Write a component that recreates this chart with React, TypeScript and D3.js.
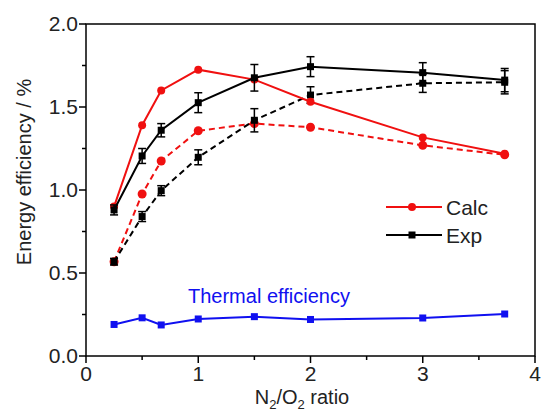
import React from "react";
import * as d3 from "d3";

const ratios = [0.25, 0.5, 0.67, 1, 1.5, 2, 3, 3.73];
const calcSolid = [0.9, 1.39, 1.6, 1.725, 1.665, 1.532, 1.317, 1.218];
const calcDashed = [0.568, 0.976, 1.175, 1.357, 1.4, 1.378, 1.269, 1.212];
const expSolid = [0.88, 1.205, 1.36, 1.526, 1.676, 1.743, 1.707, 1.662];
const expSolidErr = [0.03, 0.045, 0.04, 0.06, 0.08, 0.06, 0.06, 0.07];
const expDashed = [0.568, 0.84, 0.996, 1.197, 1.42, 1.572, 1.643, 1.649];
const expDashedErr = [0.02, 0.03, 0.03, 0.045, 0.07, 0.05, 0.055, 0.07];
const thermal = [0.19, 0.23, 0.187, 0.223, 0.237, 0.22, 0.229, 0.253];
const xTicks = [0, 1, 2, 3, 4];
const yTicks = [0, 0.5, 1.0, 1.5, 2.0];
const xMinor = [0.5, 1.5, 2.5, 3.5];
const yMinor = [0.25, 0.75, 1.25, 1.75];

const W = 543;
const H = 411;
const L = 86, R = 535, T = 24, B = 356;
const FONT = "Liberation Sans, Arial, sans-serif";
const RED = "#f01010";
const BLUE = "#1010f0";

export default function App() {
  const x = d3.scaleLinear().domain([0, 4]).range([L, R]);
  const y = d3.scaleLinear().domain([0, 2]).range([B, T]);
  const line = d3
    .line<number>()
    .x((_, i) => x(ratios[i]))
    .y((d) => y(d));

  const squares = (vals: number[], color: string, size: number) =>
    vals.map((v, i) => (
      <rect
        key={i}
        x={x(ratios[i]) - size / 2}
        y={y(v) - size / 2}
        width={size}
        height={size}
        fill={color}
      />
    ));
  const circles = (vals: number[], color: string, r: number) =>
    vals.map((v, i) => (
      <circle key={i} cx={x(ratios[i])} cy={y(v)} r={r} fill={color} />
    ));
  const errBars = (vals: number[], errs: number[]) =>
    vals.map((v, i) => {
      const cx = x(ratios[i]);
      const y1 = y(v + errs[i]);
      const y2 = y(v - errs[i]);
      return (
        <g key={i} stroke="#000" strokeWidth={1.5}>
          <line x1={cx} x2={cx} y1={y1} y2={y2} />
          <line x1={cx - 4} x2={cx + 4} y1={y1} y2={y1} />
          <line x1={cx - 4} x2={cx + 4} y1={y2} y2={y2} />
        </g>
      );
    });

  return (
    <svg
      width={W}
      height={H}
      style={{ position: "absolute", left: 0, top: 0, background: "#fff" }}
    >
      {/* frame */}
      <rect x={L} y={T} width={R - L} height={B - T} fill="none" stroke="#000" strokeWidth={1.5} />
      {/* ticks */}
      {xTicks.map((t) => (
        <g key={"xt" + t}>
          <line x1={x(t)} x2={x(t)} y1={B} y2={B + 7} stroke="#000" strokeWidth={1.5} />
          <text x={x(t)} y={B + 25} textAnchor="middle" fontFamily={FONT} fontSize={21} fill="#222">
            {t}
          </text>
        </g>
      ))}
      {xMinor.map((t) => (
        <line key={"xm" + t} x1={x(t)} x2={x(t)} y1={B} y2={B + 4} stroke="#000" strokeWidth={1.5} />
      ))}
      {yTicks.map((t) => (
        <g key={"yt" + t}>
          <line x1={L - 7} x2={L} y1={y(t)} y2={y(t)} stroke="#000" strokeWidth={1.5} />
          <text x={L - 8} y={y(t) + 7} textAnchor="end" fontFamily={FONT} fontSize={21} fill="#222">
            {t.toFixed(1)}
          </text>
        </g>
      ))}
      {yMinor.map((t) => (
        <line key={"ym" + t} x1={L - 4} x2={L} y1={y(t)} y2={y(t)} stroke="#000" strokeWidth={1.5} />
      ))}
      {/* axis titles */}
      <text
        transform={`translate(31,172) rotate(-90)`}
        textAnchor="middle"
        fontFamily={FONT}
        fontSize={20}
        fill="#222"
      >
        Energy efficiency / %
      </text>
      <text x={302} y={404} textAnchor="middle" fontFamily={FONT} fontSize={20} fill="#222">
        N<tspan fontSize={13} dy={5}>2</tspan>
        <tspan dy={-5}>/O</tspan>
        <tspan fontSize={13} dy={5}>2</tspan>
        <tspan dy={-5}> ratio</tspan>
      </text>

      {/* thermal */}
      <path d={line(thermal) || ""} fill="none" stroke={BLUE} strokeWidth={2} />
      {squares(thermal, BLUE, 7)}
      <text x={188} y={303} fontFamily={FONT} fontSize={20} fill={BLUE}>
        Thermal efficiency
      </text>

      {/* dashed series */}
      <path d={line(calcDashed) || ""} fill="none" stroke={RED} strokeWidth={2} strokeDasharray="6,4" />
      {circles(calcDashed, RED, 4.5)}
      <path d={line(expDashed) || ""} fill="none" stroke="#000" strokeWidth={2} strokeDasharray="6,4" />
      {errBars(expDashed, expDashedErr)}
      {squares(expDashed, "#000", 7)}

      {/* solid series */}
      <path d={line(calcSolid) || ""} fill="none" stroke={RED} strokeWidth={2} />
      {circles(calcSolid, RED, 4)}
      <path d={line(expSolid) || ""} fill="none" stroke="#000" strokeWidth={2} />
      {errBars(expSolid, expSolidErr)}
      {squares(expSolid, "#000", 7)}

      {/* legend */}
      <line x1={386} x2={442} y1={207} y2={207} stroke={RED} strokeWidth={2} />
      <circle cx={412} cy={207} r={4} fill={RED} />
      <text x={446} y={215} fontFamily={FONT} fontSize={21} fill="#222">
        Calc
      </text>
      <line x1={386} x2={442} y1={235} y2={235} stroke="#000" strokeWidth={2} />
      <rect x={408.5} y={231.5} width={7} height={7} fill="#000" />
      <text x={446} y={243} fontFamily={FONT} fontSize={21} fill="#222">
        Exp
      </text>
    </svg>
  );
}
